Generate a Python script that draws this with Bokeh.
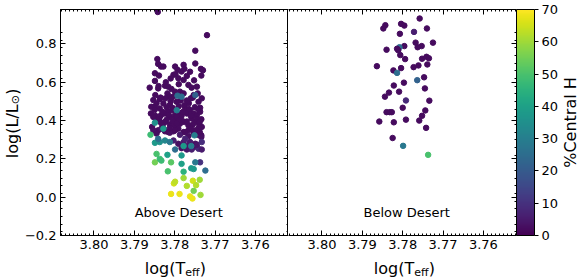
import math
from bokeh.plotting import figure
from bokeh.models import (ColumnDataSource, LinearColorMapper, ColorBar, Range1d, LinearAxis,
                          FixedTicker, Label, Spacer)
from bokeh.layouts import row, column
from bokeh.palettes import Viridis256
from bokeh.transform import transform
from bokeh.core.properties import value
from bokeh.embed import file_html
from bokeh.resources import INLINE

# ---------------- data: Above Desert ----------------
above_teff = [
    3.7843, 3.7841, 3.7834, 3.7828, 3.7849, 3.7839, 3.7849, 3.7862, 3.7841, 3.7824,
    3.7816, 3.7808, 3.7818, 3.7848, 3.7853, 3.7837, 3.7823, 3.7812, 3.7799, 3.7793,
    3.7783, 3.7778, 3.7776, 3.7803, 3.7798, 3.7791, 3.7778, 3.7770, 3.7766, 3.7758,
    3.7745, 3.7749, 3.7735, 3.7730, 3.7734, 3.7743, 3.7753, 3.7733, 3.7741, 3.7737,
    3.7760, 3.7778, 3.7787, 3.7799, 3.7808, 3.7795, 3.7812, 3.7828, 3.7837, 3.7849,
    3.7858, 3.7859, 3.7848, 3.7834, 3.7824, 3.7816, 3.7806, 3.7799, 3.7791, 3.7783,
    3.7774, 3.7770, 3.7762, 3.7753, 3.7745, 3.7737, 3.7758, 3.7749, 3.7739, 3.7734,
    3.7733, 3.7741, 3.7766, 3.7776, 3.7787, 3.7799, 3.7812, 3.7824, 3.7834, 3.7845,
    3.7853, 3.7856, 3.7841, 3.7826, 3.7816, 3.7803, 3.7791, 3.7778, 3.7766, 3.7753,
    3.7743, 3.7734, 3.7799, 3.7812, 3.7783, 3.7842, 3.7720, 3.7749,
    3.7853, 3.7845, 3.7833, 3.7824, 3.7812, 3.7799, 3.7787, 3.7774, 3.7766, 3.7753,
    3.7741, 3.7734, 3.7803, 3.7791, 3.7778, 3.7766, 3.7753, 3.7741, 3.7733, 3.7783,
    3.7770, 3.7758, 3.7749, 3.7737, 3.7745, 3.7762, 3.7774, 3.7733,
    3.7820, 3.7805, 3.7790, 3.7776, 3.7765, 3.7750, 3.7742, 3.7830, 3.7815, 3.7795,
    3.7780, 3.7760, 3.7745, 3.7738, 3.7850, 3.7838, 3.7820, 3.7805, 3.7790, 3.7770,
    3.7755, 3.7740, 3.7835, 3.7800, 3.7770, 3.7755, 3.7845, 3.7810, 3.7785, 3.7765,
    3.7830, 3.7812, 3.7795, 3.7760, 3.7748, 3.7738, 3.7810, 3.7822, 3.7762, 3.7790,
    3.7752, 3.7840,
    3.7793, 3.7783, 3.7749, 3.7795, 3.7828, 3.7849, 3.7860, 3.7751,
    3.7849, 3.7837, 3.7824, 3.7812, 3.7841, 3.7799, 3.7778, 3.7759, 3.7845, 3.7849,
    3.7837, 3.7833, 3.7818, 3.7809, 3.7817, 3.7783, 3.7783, 3.7778, 3.7759, 3.7753,
    3.7749, 3.7724,
    3.7802, 3.7799, 3.7778, 3.7755, 3.7738, 3.7809, 3.7788, 3.7770, 3.7753, 3.7762,
    3.7756, 3.7736, 3.7747,
]
above_logl = [
    0.721, 0.696, 0.682, 0.682, 0.647, 0.635, 0.607, 0.572, 0.568, 0.582,
    0.577, 0.565, 0.542, 0.533, 0.507, 0.512, 0.516, 0.525, 0.682, 0.665,
    0.656, 0.691, 0.670, 0.639, 0.642, 0.621, 0.612, 0.633, 0.586, 0.572,
    0.577, 0.698, 0.670, 0.663, 0.635, 0.542, 0.533, 0.516, 0.498, 0.467,
    0.516, 0.542, 0.551, 0.551, 0.516, 0.498, 0.481, 0.489, 0.463, 0.472,
    0.472, 0.437, 0.425, 0.428, 0.437, 0.449, 0.454, 0.428, 0.437, 0.425,
    0.463, 0.437, 0.454, 0.437, 0.428, 0.446, 0.411, 0.393, 0.384, 0.407,
    0.367, 0.349, 0.375, 0.393, 0.384, 0.372, 0.379, 0.393, 0.389, 0.402,
    0.419, 0.367, 0.349, 0.354, 0.340, 0.344, 0.358, 0.340, 0.349, 0.332,
    0.326, 0.323, 0.411, 0.419, 0.402, 0.967, 0.846, 0.765,
    0.349, 0.332, 0.358, 0.344, 0.337, 0.349, 0.326, 0.340, 0.319, 0.344,
    0.332, 0.314, 0.296, 0.279, 0.288, 0.270, 0.261, 0.253, 0.249, 0.256,
    0.249, 0.249, 0.279, 0.182, 0.274, 0.288, 0.305, 0.288,
    0.470, 0.466, 0.475, 0.480, 0.490, 0.470, 0.460, 0.445, 0.430, 0.420,
    0.445, 0.425, 0.410, 0.395, 0.455, 0.410, 0.405, 0.395, 0.400, 0.395,
    0.380, 0.365, 0.520, 0.530, 0.505, 0.520, 0.490, 0.500, 0.505, 0.460,
    0.375, 0.360, 0.385, 0.360, 0.350, 0.340, 0.620, 0.600, 0.655, 0.590,
    0.610, 0.580,
    0.530, 0.525, 0.533, 0.454, 0.358, 0.389, 0.326, 0.323,
    0.284, 0.288, 0.296, 0.288, 0.305, 0.249, 0.267, 0.267, 0.226, 0.182,
    0.200, 0.191, 0.221, 0.182, 0.135, 0.218, 0.174, 0.133, 0.151, 0.147,
    0.182, 0.139,
    0.072, 0.081, 0.100, 0.086, 0.091, 0.017, 0.017, 0.059, 0.033, 0.004,
    -0.007, 0.012, 0.063,
]
above_h = (
    [2] * 98
    + [3, 2, 4, 2, 3, 2, 5, 2, 3, 2, 4, 3, 6, 3, 5, 4, 3, 8, 5, 3, 4, 6, 3, 10, 4, 5, 7, 9]
    + [2] * 42
    + [25, 25, 22, 30, 38, 35, 48, 30]
    + [38, 35, 32, 28, 25, 25, 38, 30, 50, 55,
       48, 48, 40, 52, 50, 38, 40, 45, 38, 38,
       28, 25]
    + [65, 63, 60, 65, 60, 68, 68, 62, 55, 68,
       68, 60, 62]
)

# ---------------- data: Below Desert ----------------
below_teff = [
    3.7758, 3.7843, 3.7848, 3.7804, 3.7796, 3.7740, 3.7807, 3.7772, 3.7725, 3.7768,
    3.7796, 3.7753, 3.7763, 3.7808, 3.7814, 3.7811, 3.7840, 3.7806, 3.7794, 3.7752,
    3.7741, 3.7735, 3.7739, 3.7761, 3.7773, 3.7804, 3.7823, 3.7814, 3.7864, 3.7764,
    3.7747, 3.7797, 3.7822, 3.7745, 3.7809, 3.7834, 3.7844, 3.7734, 3.7792, 3.7800,
    3.7744, 3.7752, 3.7840, 3.7832, 3.7827, 3.7759, 3.7792, 3.7858, 3.7822, 3.7742,
    3.7825, 3.7799, 3.7737,
]
below_logl = [
    0.933, 0.898, 0.881, 0.905, 0.896, 0.881, 0.853, 0.863, 0.807, 0.807,
    0.789, 0.789, 0.783, 0.783, 0.775, 0.767, 0.770, 0.742, 0.721, 0.723,
    0.733, 0.725, 0.693, 0.688, 0.679, 0.674, 0.662, 0.649, 0.684, 0.611,
    0.626, 0.598, 0.583, 0.568, 0.551, 0.546, 0.525, 0.504, 0.505, 0.467,
    0.453, 0.425, 0.444, 0.444, 0.444, 0.400, 0.405, 0.395, 0.391, 0.362,
    0.309, 0.268, 0.221,
]
below_h = [
    2, 2, 2, 2, 2, 2, 2, 6, 2, 2,
    2, 2, 2, 25, 2, 2, 2, 2, 2, 2,
    2, 2, 2, 2, 2, 2, 2, 25, 2, 22,
    2, 2, 2, 2, 2, 2, 2, 2, 8, 2,
    2, 2, 2, 2, 2, 2, 2, 2, 2, 2,
    2, 28, 50,
]

x_ticks = [3.80, 3.79, 3.78, 3.77, 3.76]
y_ticks = [-0.2, 0.0, 0.2, 0.4, 0.6, 0.8]
cbar_ticks = [0, 10, 20, 30, 40, 50, 60, 70]
panel_titles = ["Above Desert", "Below Desert"]

FONT = "DejaVu Sans"
TICK_PX = "13px"
LABEL_PX = "16px"
SUB_PX = "11px"
XR = (3.8083, 3.7518)
YR = (-0.2, 0.98)
TOP, BOTTOM, FW, FH = 9, 23, 228, 226
YLAB_W, P1_LEFT = 21, 39
XLAB_H = 20

mapper = LinearColorMapper(palette=Viridis256, low=0, high=70)


def tick_axis(with_labels, ticks, minor_step, tick_len=5, minor_len=2):
    lo, hi = ticks[0] - 0.1, ticks[-1] + 0.1
    minors = []
    v = lo
    while v <= hi:
        minors.append(round(v, 4))
        v += minor_step
    ax = LinearAxis(
        ticker=FixedTicker(ticks=ticks, minor_ticks=minors),
        major_tick_in=tick_len, major_tick_out=0, minor_tick_in=minor_len, minor_tick_out=0,
        major_tick_line_color="black", minor_tick_line_color="black",
        axis_line_color="black",
        major_label_text_font=FONT,
        major_label_text_font_size=TICK_PX if with_labels else "0px",
        major_label_text_color="black",
        major_label_standoff=4 if with_labels else 0,
    )
    if not with_labels:
        ax.major_label_text_alpha = 0
    return ax


def blank(**kw):
    f = figure(output_backend="svg", toolbar_location=None,
               x_axis_location=None, y_axis_location=None, **kw)
    f.grid.visible = False
    f.outline_line_color = None
    f.background_fill_color = None
    f.border_fill_color = None
    return f


def panel(T, L, H, left_border, first, title_text):
    p = figure(frame_width=FW, frame_height=FH,
               x_range=Range1d(*XR), y_range=Range1d(*YR),
               output_backend="svg", toolbar_location=None,
               x_axis_location=None, y_axis_location=None,
               min_border_left=left_border, min_border_right=0,
               min_border_top=TOP, min_border_bottom=BOTTOM)
    p.grid.visible = False
    p.outline_line_color = "black" if first else None
    p.background_fill_color = "white"
    p.border_fill_color = "white"

    xb = tick_axis(True, x_ticks, 0.001)
    xb.major_label_overrides = {t: f"{t:.2f}" for t in x_ticks}
    p.add_layout(xb, "below")
    p.add_layout(tick_axis(False, x_ticks, 0.001), "above")
    if first:
        yl = tick_axis(True, y_ticks, 0.04)
        yl.major_label_overrides = {t: ("\u22120.2" if t < 0 else f"{t:.1f}") for t in y_ticks}
        p.add_layout(yl, "left")
    p.add_layout(tick_axis(False, y_ticks, 0.04), "right")

    src = ColumnDataSource(dict(teff=T, logl=L, h=H))
    p.scatter("teff", "logl", source=src, size=5.5,
              fill_color=transform("h", mapper), line_color=transform("h", mapper))

    p.add_layout(Label(x=3.779, y=-0.08, text=title_text, text_align="center",
                       text_baseline="middle", text_font=FONT, text_font_size="13px",
                       text_color="black"))
    return p


def xlabel_fig(left_border):
    f = blank(frame_width=FW, frame_height=XLAB_H, x_range=Range1d(*XR),
              y_range=Range1d(0, XLAB_H),
              min_border_left=left_border, min_border_right=0, min_border_top=0,
              min_border_bottom=0)
    common = dict(text_baseline="middle", text_color="black", text_font=value(FONT))
    f.text(x=[3.7774], y=[10.5], text=["log(T"], text_align="right",
           text_font_size=value(LABEL_PX), **common)
    f.text(x=[3.7774], y=[6.5], text=["eff"], text_align="left",
           text_font_size=value(SUB_PX), **common)
    f.text(x=[3.7738], y=[10.5], text=[")"], text_align="left",
           text_font_size=value(LABEL_PX), **common)
    return f


p1 = panel(above_teff, above_logl, above_h, P1_LEFT, True, panel_titles[0])
p2 = panel(below_teff, below_logl, below_h, 0, False, panel_titles[1])

cbar = ColorBar(color_mapper=mapper, width=18, height=FH, padding=0, margin=0,
                ticker=FixedTicker(ticks=cbar_ticks),
                major_label_text_font=FONT, major_label_text_font_size=TICK_PX,
                major_label_text_color="black",
                major_tick_out=4, major_tick_in=0, major_tick_line_color="black",
                minor_tick_line_color=None,
                bar_line_color="black", border_line_color=None,
                label_standoff=3, location=(0, 0))
p2.add_layout(cbar, "right")

# y-axis label: log(L/L_sun)
ylab = blank(frame_width=YLAB_W, frame_height=FH, x_range=Range1d(0, YLAB_W),
             y_range=Range1d(*YR), min_border_left=0, min_border_right=0,
             min_border_top=TOP, min_border_bottom=BOTTOM)
ycommon = dict(angle=math.pi / 2, text_baseline="middle", text_color="black",
               text_font=value(FONT))
ylab.text(x=[11.5], y=[0.485], text=["log(L/L"], text_align="right",
          text_font_size=value(LABEL_PX), **ycommon)
ylab.text(x=[15], y=[0.485], text=["\u2299"], text_align="left",
          text_font_size=value(SUB_PX), **ycommon)
ylab.text(x=[11.5], y=[0.535], text=[")"], text_align="left",
          text_font_size=value(LABEL_PX), **ycommon)

# colour bar title
clab = blank(frame_width=20, frame_height=FH, x_range=Range1d(0, 20), y_range=Range1d(*YR),
             min_border_left=0, min_border_right=0, min_border_top=TOP,
             min_border_bottom=BOTTOM)
clab.text(x=[9], y=[0.39], text=["%Central H"], angle=math.pi / 2, text_align="center",
          text_baseline="middle", text_color="black", text_font=value(FONT),
          text_font_size=value(LABEL_PX))

x1 = xlabel_fig(P1_LEFT)
x2 = xlabel_fig(1)

layout = column(row(ylab, p1, p2, clab, spacing=0),
                row(Spacer(width=YLAB_W, height=XLAB_H), x1, x2, spacing=0),
                spacing=0)
open("out.html", "w").write(file_html(layout, INLINE))
